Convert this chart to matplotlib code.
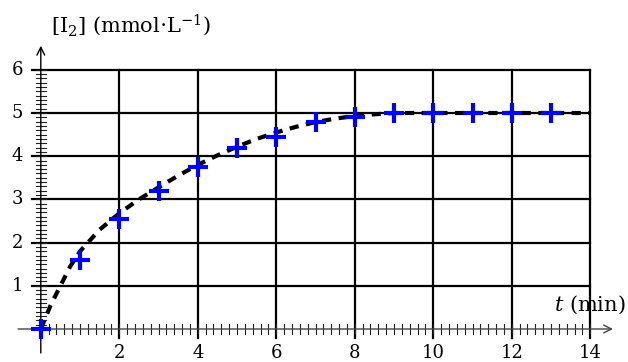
import matplotlib
matplotlib.use("Agg")
import matplotlib.pyplot as plt
import numpy as np

plt.rcParams["mathtext.fontset"] = "dejavuserif"

# measured data
t_meas = [0, 1, 2, 3, 4, 5, 6, 7, 8, 9, 10, 11, 12, 13]
c_meas = [0, 1.6, 2.55, 3.2, 3.75, 4.2, 4.45, 4.8, 4.9, 5.0, 5.0, 5.0, 5.0, 5.0]

# fitted curve
t_fit = [0, 0.25, 0.5, 0.75, 1, 1.5, 2, 2.5, 3, 3.5, 4, 4.5, 5, 5.5, 6, 6.5, 7, 7.5, 8, 8.5, 9, 10, 11, 12, 13, 14]
c_fit = [0, 0.55, 1.0, 1.45, 1.8, 2.3, 2.68, 3.0, 3.28, 3.55, 3.8, 4.02, 4.22, 4.4, 4.55, 4.68, 4.79, 4.87, 4.93, 4.97, 5.0, 5.0, 5.0, 5.0, 5.0, 5.0]

x_major = [2, 4, 6, 8, 10, 12, 14]
y_major = [1, 2, 3, 4, 5, 6]

W, H = 628, 362
fig = plt.figure(figsize=(W / 100, H / 100), dpi=100)
ax = fig.add_axes([0, 0, 1, 1])
x0px, sx = 40.8, 39.25
y0px, sy = 329.0, 43.2
ax.set_xlim(-x0px / sx, (W - x0px) / sx)
ax.set_ylim(-(H - y0px) / sy, y0px / sy)
ax.axis("off")

serif = ["DejaVu Serif"]
fs = 13
fs_lab = 15

# grid
for xv in x_major:
    ax.plot([xv, xv], [-0.2, 6], color="black", lw=1.6, zorder=2)
for yv in y_major:
    ax.plot([-0.23, 14], [yv, yv], color="black", lw=1.6, zorder=2)

# minor ticks
for xv in np.arange(0.2, 14.01, 0.2):
    ax.plot([xv, xv], [-0.11, 0.11], color="#222222", lw=0.8, zorder=2)
for yv in np.arange(0.1, 6.01, 0.1):
    ax.plot([-0.12, 0.12], [yv, yv], color="#222222", lw=0.8, zorder=2)

# axes with arrows
ax.annotate("", xy=(14.65, 0), xytext=(-0.65, 0),
            arrowprops=dict(arrowstyle="->", color="#444444", lw=1.0, mutation_scale=14), zorder=3)
ax.annotate("", xy=(0, 6.62), xytext=(0, -0.62),
            arrowprops=dict(arrowstyle="->", color="black", lw=1.0, mutation_scale=14), zorder=3)

# curve and points
ax.plot(t_fit, c_fit, color="black", lw=3, ls=(0, (2.2, 1.8)), zorder=4)
ax.plot(t_meas, c_meas, ls="none", marker="+", color="#0000ff", ms=15, mew=3, zorder=5)

# tick labels
for xv in x_major:
    ax.text(xv, -0.55, str(xv), ha="center", va="center", fontsize=fs, family=serif)
for yv in y_major:
    ax.text(-0.6, yv, str(yv), ha="center", va="center", fontsize=fs, family=serif)

ax.text(0.26, 7.04, r"[I$_2$] (mmol$\cdot$L$^{-1}$)", ha="left", va="center",
        fontsize=fs_lab, family=serif)
ax.text(14.9, 0.56, r"$t$ (min)", ha="right", va="center", fontsize=fs_lab, family=serif)

fig.savefig("out.png", dpi=100)
